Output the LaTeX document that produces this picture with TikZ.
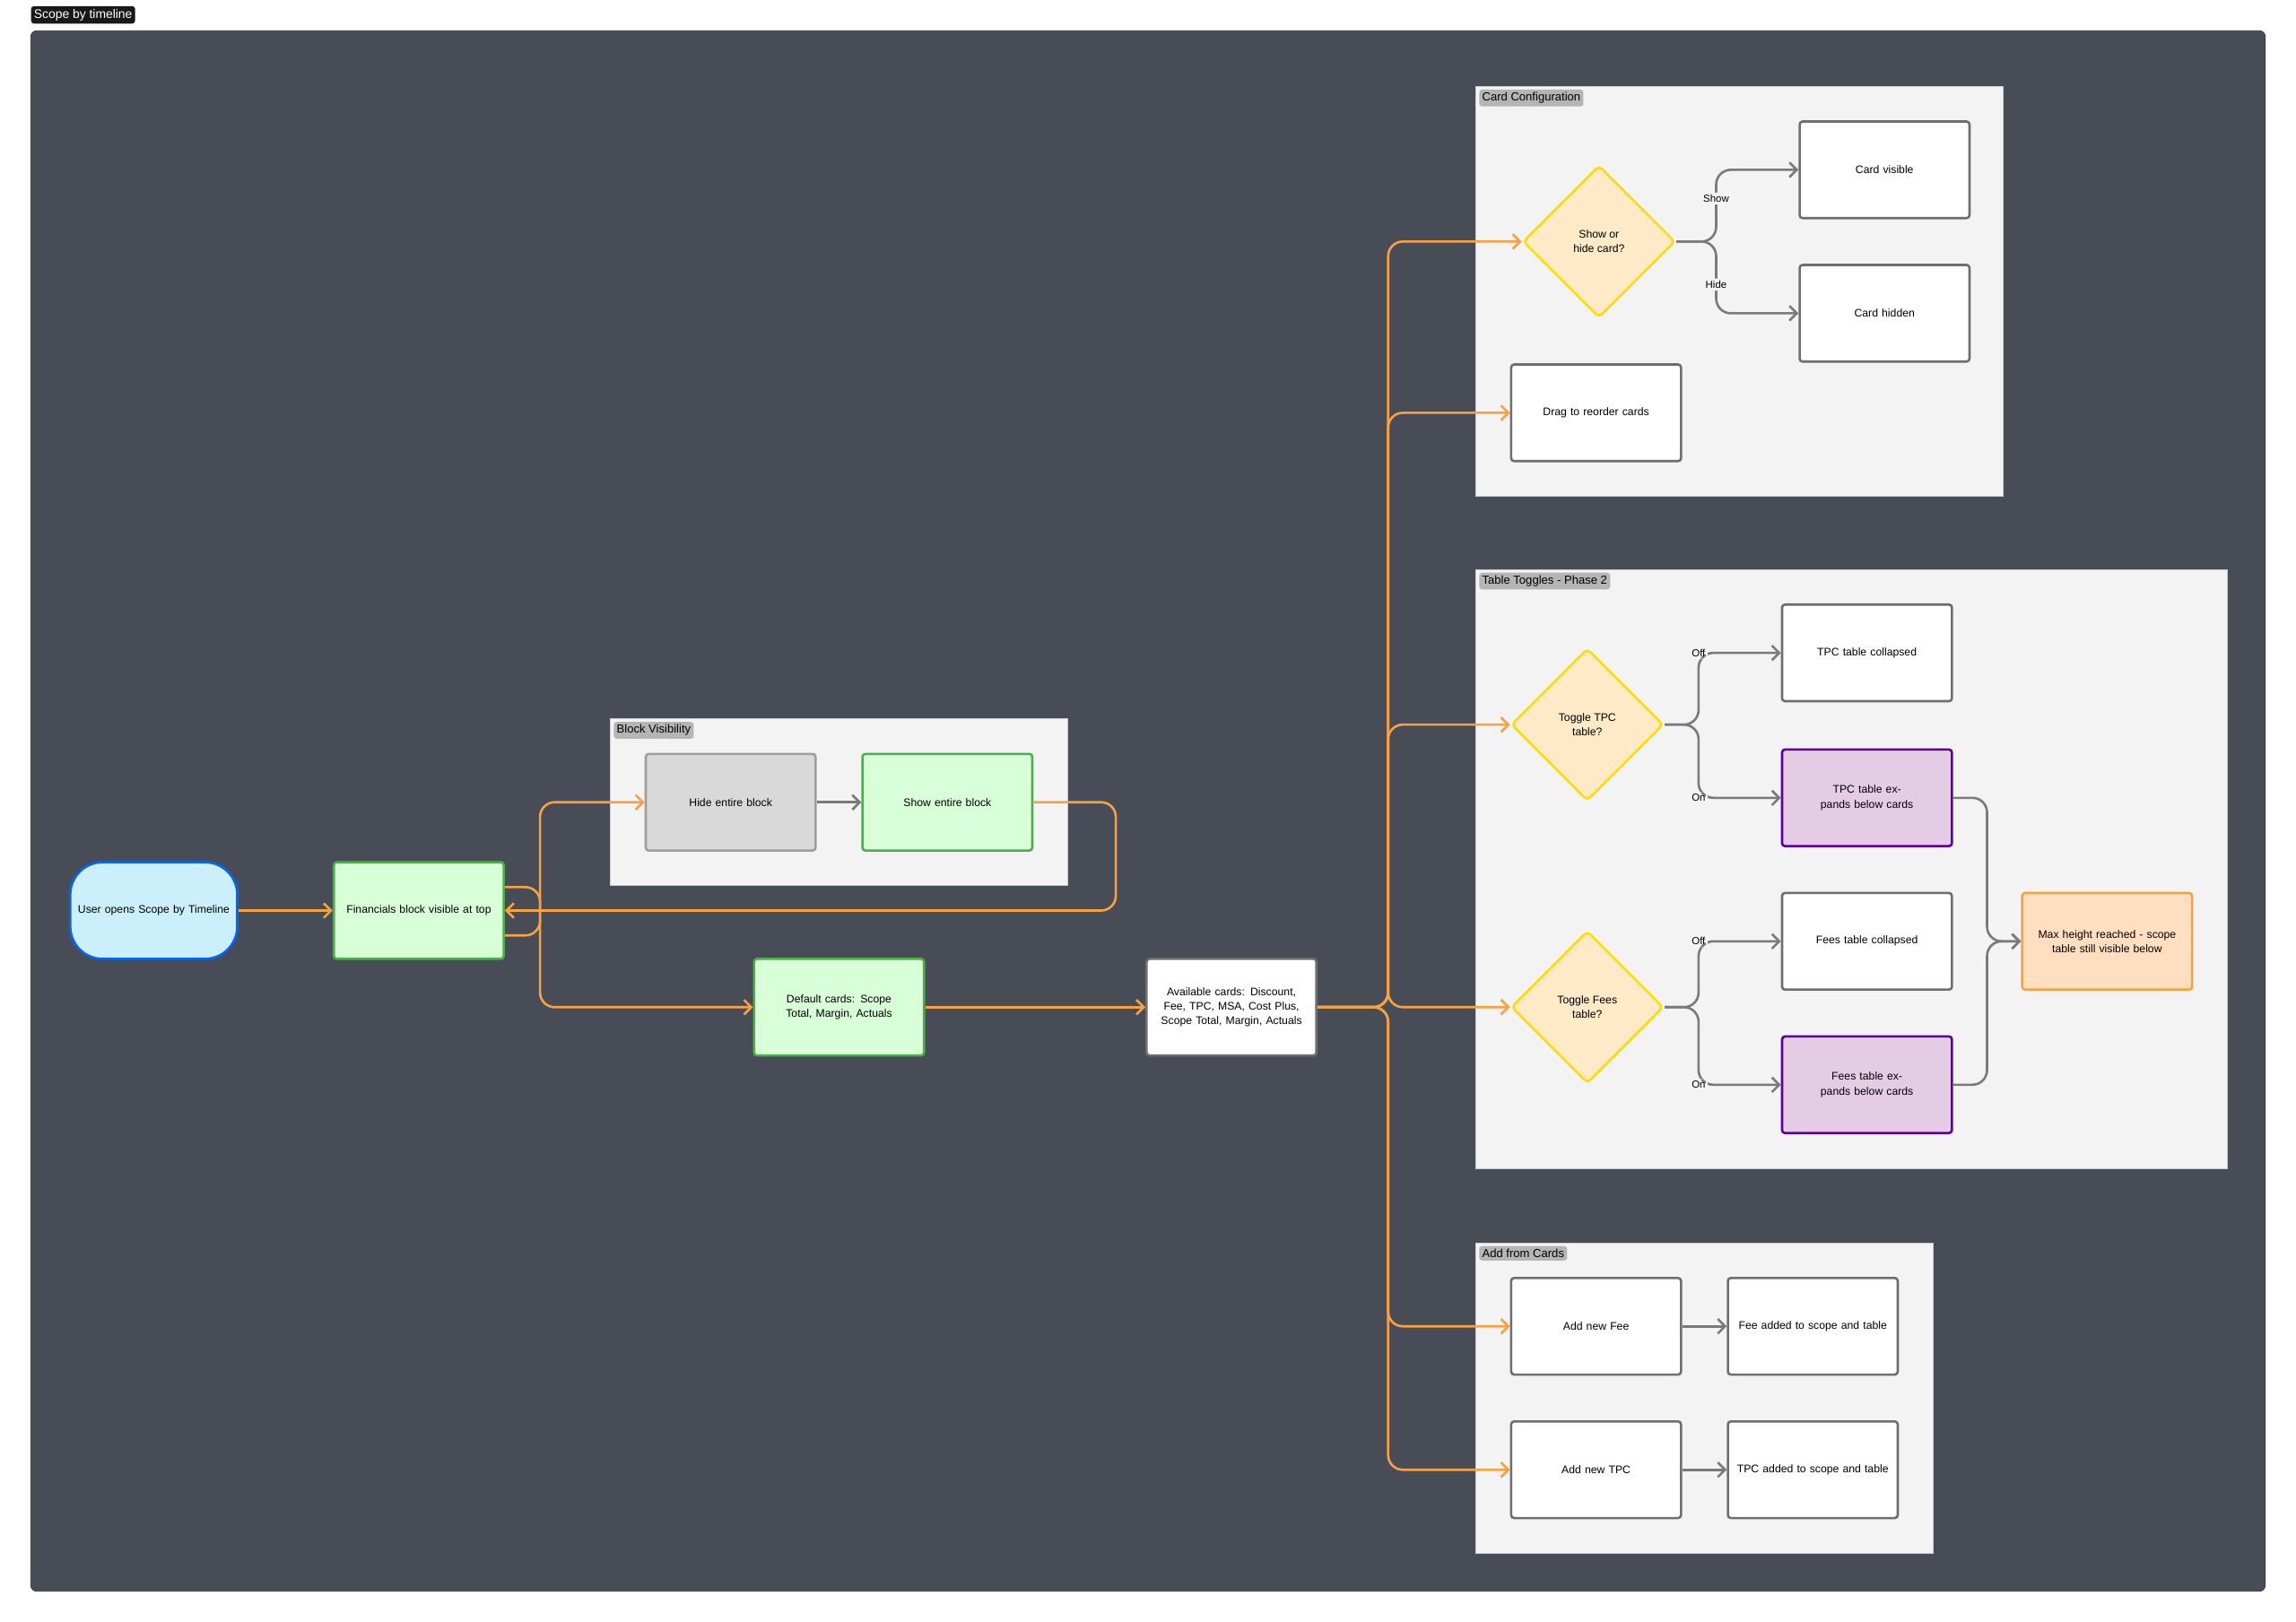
\documentclass[tikz,border=0pt]{standalone}
\usepackage{fontspec}
\setmainfont{Liberation Sans}
\usetikzlibrary{shapes.geometric,arrows.meta,positioning}
\definecolor{panel}{HTML}{484C57}
\definecolor{grp}{HTML}{F3F3F3}
\definecolor{tagc}{HTML}{B5B5B5}
\definecolor{flow}{HTML}{F7A143}
\definecolor{link}{HTML}{7A7A7A}
\definecolor{boxline}{HTML}{6E6E6E}
\begin{document}
\begin{tikzpicture}[x=1pt, y=-1pt, font=\fontsize{7.5}{10}\selectfont,
    box/.style={draw=boxline, fill=white, line width=1.6pt, rounded corners=2pt, minimum width=116pt, minimum height=66pt, align=center, text width=104pt},
    green/.style={box, draw=green!55!black!70, fill=green!15},
    grey/.style={box, draw=black!38, fill=black!15},
    purple/.style={box, draw=violet!70!blue, fill=violet!20},
    orange/.style={box, draw=flow, fill=orange!25},
    pill/.style={box, draw=blue!60!cyan, fill=cyan!20, rounded corners=22pt, minimum width=114pt},
    decide/.style={diamond, draw=yellow!80!orange, fill=yellow!25!orange!20, line width=1.6pt, rounded corners=3pt, minimum width=104pt, minimum height=104pt, inner sep=0pt, align=center},
    group/.style={fill=grp, draw=black!20},
    tag/.style={fill=tagc, rounded corners=2pt, anchor=north west, inner sep=2pt, font=\fontsize{8}{9}\selectfont},
    go/.style={draw=flow, line width=1.6pt, rounded corners=10pt, -{Straight Barb[length=5pt,width=10pt]}},
    to/.style={draw=link, line width=1.6pt, rounded corners=10pt, -{Straight Barb[length=5pt,width=10pt]}},
    lbl/.style={fill=grp, inner sep=1.5pt, font=\fontsize{7}{8}\selectfont}]
  \useasboundingbox (0,0) rectangle (1568,1108);
  % frame
  \fill[panel, draw=black!80, rounded corners=4pt] (21,21) rectangle (1547,1087);
  \node[fill=black!90, text=white, rounded corners=2pt, anchor=north west, inner sep=2pt, font=\fontsize{8.5}{9}\selectfont] at (21,4) {Scope by timeline};
  % groups
  \draw[group] (1008,59) rectangle (1368,339);
  \node[tag] at (1010,61) {Card Configuration};
  \draw[group] (1008,389) rectangle (1521,798);
  \node[tag] at (1010,391) {Table Toggles - Phase 2};
  \draw[group] (1008,849) rectangle (1320,1061);
  \node[tag] at (1010,851) {Add from Cards};
  \draw[group] (417,491) rectangle (729,605);
  \node[tag] at (419,493) {Block Visibility};
  % nodes
  \node[pill] (user) at (105,622) {User opens Scope by Timeline};
  \node[green] (fin) at (286,622) {Financials block visible at top};
  \node[grey] (hide) at (499,548) {Hide entire block};
  \node[green] (show) at (647,548) {Show entire block};
  \node[green] (default) at (573,688) {Default cards: Scope Total, Margin, Actuals};
  \node[box] (avail) at (841,688) {Available cards: Discount, Fee, TPC, MSA, Cost Plus, Scope Total, Margin, Actuals};
  \node[decide] (showq) at (1092,165) {Show or\\hide card?};
  \node[box] (visible) at (1287,116) {Card visible};
  \node[box] (hidden) at (1287,214) {Card hidden};
  \node[box] (drag) at (1090,282) {Drag to reorder cards};
  \node[decide] (tpcq) at (1084,495) {Toggle TPC\\table?};
  \node[box] (tpcoff) at (1275,446) {TPC table collapsed};
  \node[purple] (tpcon) at (1275,545) {TPC table expands below cards};
  \node[decide] (feeq) at (1084,688) {Toggle Fees\\table?};
  \node[box] (feeoff) at (1275,643) {Fees table collapsed};
  \node[purple] (feeon) at (1275,741) {Fees table expands below cards};
  \node[orange] (maxh) at (1439,643) {Max height reached - scope table still visible below};
  \node[box] (addfee) at (1090,906) {Add new Fee};
  \node[box] (feeadd) at (1238,906) {Fee added to scope and table};
  \node[box] (addtpc) at (1090,1004) {Add new TPC};
  \node[box] (tpcadd) at (1238,1004) {TPC added to scope and table};
  % main flow
  \draw[go] (user) -- (fin);
  \draw[go] ([yshift=-17pt]fin.east) -- ++(24,0) |- (hide);
  \draw[to] (hide) -- (show);
  \draw[go] (show.east) -- (762,548) |- (fin.east);
  \draw[go] ([yshift=16pt]fin.east) -- ++(24,0) |- (default);
  \draw[go] (default) -- (avail);
  \foreach \t in {showq, drag, tpcq, feeq, addfee, addtpc}
    \draw[go] (avail.east) -- (948,688) |- (\t.west);
  % branches
  \draw[to] (showq.east) -- (1172,165) |- node[lbl, pos=0.3] {Show} (visible);
  \draw[to] (showq.east) -- (1172,165) |- node[lbl, pos=0.3] {Hide} (hidden);
  \draw[to] (tpcq.east) -- (1160,495) |- node[lbl, pos=0.5] {Off} (tpcoff);
  \draw[to] (tpcq.east) -- (1160,495) |- node[lbl, pos=0.5] {On} (tpcon);
  \draw[to] (feeq.east) -- (1160,688) |- node[lbl, pos=0.5] {Off} (feeoff);
  \draw[to] (feeq.east) -- (1160,688) |- node[lbl, pos=0.5] {On} (feeon);
  \draw[to] (tpcon.east) -- (1357,545) |- (maxh.west);
  \draw[to] (feeon.east) -- (1357,741) |- (maxh.west);
  \draw[to] (addfee) -- (feeadd);
  \draw[to] (addtpc) -- (tpcadd);
\end{tikzpicture}
\end{document}
